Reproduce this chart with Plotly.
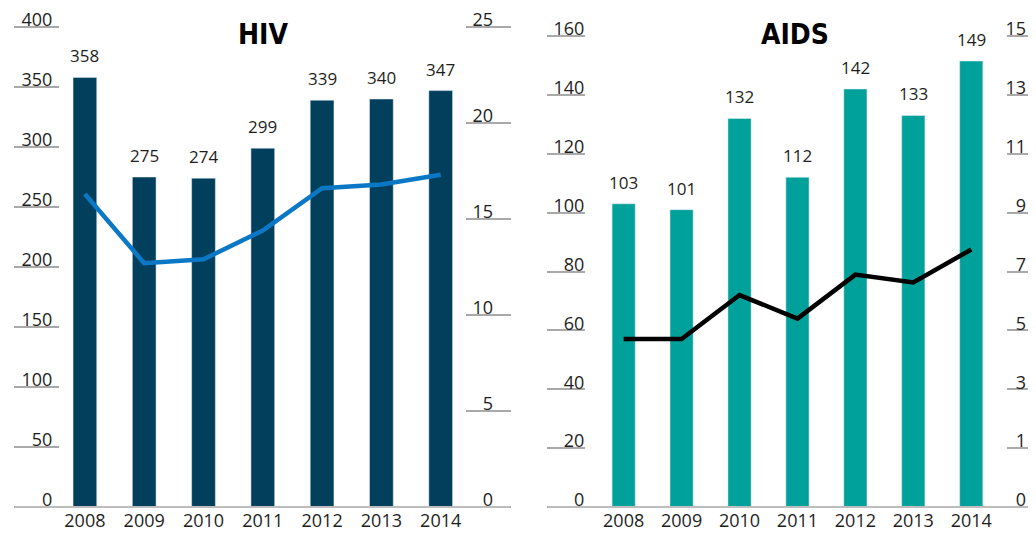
import plotly.graph_objects as go

years = ["2008", "2009", "2010", "2011", "2012", "2013", "2014"]
hiv_cases = [358, 275, 274, 299, 339, 340, 347]
hiv_rate = [16.3, 12.7, 12.9, 14.4, 16.6, 16.8, 17.3]
# bar heights as drawn (the 2014 bar is drawn slightly above its printed label value)
aids_bars = [103, 101, 132, 112, 142, 133, 151.5]
aids_labels = ["103", "101", "132", "112", "142", "133", "149"]
aids_rate = [5.35, 5.35, 6.75, 6.0, 7.4, 7.15, 8.2]

hiv_left_ticks = [0, 50, 100, 150, 200, 250, 300, 350, 400]
hiv_right_ticks = [0, 5, 10, 15, 20, 25]
aids_left_ticks = [0, 20, 40, 60, 80, 100, 120, 140, 160]
aids_right_vals = [0, 1.875, 3.75, 5.625, 7.5, 9.375, 11.25, 13.125, 15]
aids_right_text = ["0", "1", "3", "5", "7", "9", "11", "13", "15"]

# page body has an 8px margin; figure is drawn at (8, 8)
OFF = 8
W, H = 1036 - OFF, 533 - OFF


def px(x):
    return (x - OFF) / W


def py(y):
    return 1 - (y - OFF) / H


NAVY = "#023f5c"
BLUE = "#0b78c6"
TEAL = "#00a19a"
TICK_GREY = "#a9a9a9"
TXT = "#1e1e1e"
FONT = "Open Sans, Noto Sans, sans-serif"

fig = go.Figure()
fig.add_trace(go.Bar(x=years, y=hiv_cases, marker_color=NAVY, xaxis="x", yaxis="y"))
fig.add_trace(go.Scatter(x=years, y=hiv_rate, mode="lines", line=dict(color=BLUE, width=4.5),
                         xaxis="x", yaxis="y2"))
fig.add_trace(go.Bar(x=years, y=aids_bars, marker_color=TEAL, xaxis="x2", yaxis="y3"))
fig.add_trace(go.Scatter(x=years, y=aids_rate, mode="lines", line=dict(color="#000000", width=4.5),
                         xaxis="x2", yaxis="y4"))

bottom = py(507)
left_dom = [px(60), px(465)]
right_dom = [px(586), px(1006)]


def xax(dom, rng):
    return dict(domain=dom, type="category", range=rng, showline=False, showgrid=False,
                zeroline=False, ticks="", ticklabelstandoff=1,
                tickfont=dict(family=FONT, size=18, color=TXT),
                automargin=False, fixedrange=True)


def yax(dom, rng, vals, ticklen, standoff, text=None):
    d = dict(domain=dom, range=rng, tickvals=vals, showgrid=False, zeroline=False,
             showline=False, ticks="outside", ticklen=ticklen, tickcolor=TICK_GREY,
             tickwidth=1.5, ticklabelposition="outside", ticklabelstandoff=standoff,
             ticklabelshift=-7, ticklabeloverflow="allow",
             tickfont=dict(family=FONT, size=18, color=TXT),
             automargin=False, fixedrange=True)
    if text is not None:
        d["ticktext"] = text
    return d


layout = dict(
    width=W, height=H, margin=dict(l=0, r=0, t=0, b=0),
    paper_bgcolor="white", plot_bgcolor="white", showlegend=False, bargap=0.6,
    xaxis=xax(left_dom, [-0.42, 6.41]),
    xaxis2=xax(right_dom, [-0.65, 6.6]),
)
y1 = yax([bottom, py(27)], [0, 400], hiv_left_ticks, 45, -42)
y1.update(anchor="x")
y2 = yax([bottom, py(27)], [0, 25], hiv_right_ticks, 45, -31)
y2.update(overlaying="y", side="right", anchor="x", ticklabelposition="inside")
y3 = yax([bottom, py(36)], [0, 160], aids_left_ticks, 38, -41)
y3.update(anchor="x2")
y4 = yax([bottom, py(36)], [0, 15], aids_right_vals, 30, -23, aids_right_text)
y4.update(overlaying="y3", side="right", anchor="x2", ticklabelposition="inside")
layout.update(yaxis=y1, yaxis2=y2, yaxis3=y3, yaxis4=y4)
fig.update_layout(**layout)

# baselines
fig.add_shape(type="line", xref="paper", yref="paper", x0=px(15), x1=px(510), y0=bottom, y1=bottom,
              line=dict(color="#bdbdbd", width=2))
fig.add_shape(type="line", xref="paper", yref="paper", x0=px(548), x1=px(1036), y0=bottom, y1=bottom,
              line=dict(color="#bdbdbd", width=2))

# data labels
for i, v in enumerate(hiv_cases):
    fig.add_annotation(x=i, y=v, xref="x", yref="y", text=str(v), showarrow=False,
                       yanchor="bottom", yshift=8, font=dict(family=FONT, size=17, color=TXT))
for i, (v, t) in enumerate(zip(aids_bars, aids_labels)):
    fig.add_annotation(x=i, y=v, xref="x2", yref="y3", text=t, showarrow=False,
                       yanchor="bottom", yshift=8, font=dict(family=FONT, size=17, color=TXT))

TITLE_FONT = dict(family="Liberation Sans Narrow, DejaVu Sans Condensed, Arial Narrow, sans-serif",
                  size=28, color="#000000")
fig.add_annotation(x=px(263), y=py(35), xref="paper", yref="paper", text="<b>HIV</b>",
                   showarrow=False, xanchor="center", yanchor="middle", font=TITLE_FONT)
fig.add_annotation(x=px(795), y=py(35), xref="paper", yref="paper", text="<b>AIDS</b>",
                   showarrow=False, xanchor="center", yanchor="middle", font=TITLE_FONT)

fig.write_html("out.html")
